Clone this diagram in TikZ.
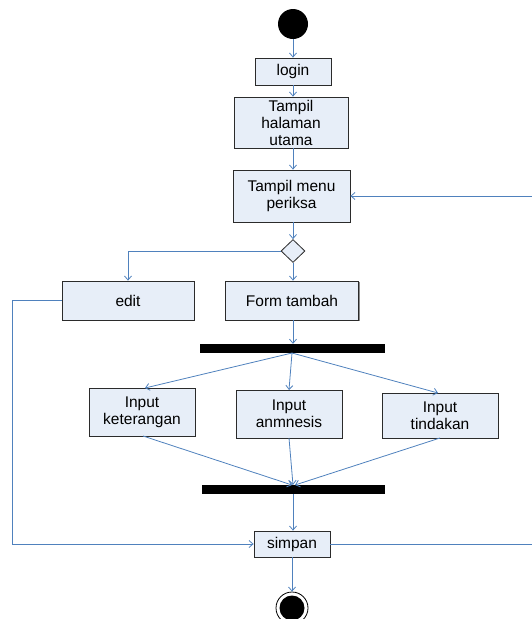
\documentclass[tikz,border=0pt]{standalone}
\usepackage{fontspec}
\setmainfont{Liberation Sans}
\usetikzlibrary{arrows.meta,shapes.geometric,shadows}
\definecolor{lineblue}{HTML}{4F81BD}
\definecolor{boxfill}{HTML}{E7EEF8}
\definecolor{boxline}{HTML}{2B2B2B}
\tikzset{
  box/.style={draw=boxline, fill=boxfill, line width=0.8pt, align=center, inner sep=1pt,
    font=\fontsize{15.5}{17}\selectfont,
    drop shadow={shadow xshift=1pt, shadow yshift=-1pt, fill=black!45, opacity=1}},
  bar/.style={fill=black, draw=none, inner sep=0pt},
  flow/.style={draw=lineblue, line width=0.8pt, -{Straight Barb[length=4pt,width=7pt]}},
}
\begin{document}
\begin{tikzpicture}[x=1pt,y=-1pt]
\useasboundingbox (0,0) rectangle (531,619);
% start / end
\node[circle, fill=black, minimum size=30, inner sep=0pt] (start) at (293,24) {};
\node[circle, draw=black, line width=0.8pt, fill=white, minimum size=32, inner sep=0pt] (endo) at (292,608) {};
\node[circle, fill=black, minimum size=25, inner sep=0pt] (end) at (292,608) {};
% boxes
\node[box, minimum width=76, minimum height=27] (login) at (293,71.5) {login};
\node[box, minimum width=114, minimum height=51] (halu) at (291,122.5) {Tampil\\halaman\\utama};
\node[box, minimum width=117, minimum height=52] (periksa) at (291.5,196) {Tampil menu\\periksa};
\node[diamond, draw=boxline, fill=boxfill, line width=0.8pt, minimum width=24, minimum height=23, inner sep=0pt] (dec) at (293,251) {};
\node[box, minimum width=132, minimum height=39] (edit) at (128,300.5) {edit};
\node[box, minimum width=133, minimum height=39] (form) at (292,300.5) {Form tambah};
\node[bar, minimum width=185, minimum height=9] (fork) at (292.5,348.5) {};
\node[box, minimum width=106, minimum height=48] (ket) at (142,412) {Input\\keterangan};
\node[box, minimum width=106, minimum height=48] (anm) at (289,414) {Input\\anmnesis};
\node[box, minimum width=116, minimum height=45] (tin) at (440,415.5) {Input\\tindakan};
\node[bar, minimum width=183, minimum height=9] (join) at (293.5,489.5) {};
\node[box, minimum width=76, minimum height=26] (simpan) at (292,544) {simpan};
% helper coordinates
\coordinate (forkout) at (292,353);
\coordinate (ketin) at (145,388);
\coordinate (anmin) at (289,390);
\coordinate (tinin) at (438,393);
\coordinate (ketout) at (143,436);
\coordinate (anmout) at (289,438);
\coordinate (tinout) at (440,438);
\coordinate (joinin1) at (292,485);
\coordinate (joinin2) at (293,485);
\coordinate (joinin3) at (295,485);
\coordinate (leftrail) at (12,300.5);
\coordinate (rightrail) at (533,544);
% connectors
\draw[flow] (start.south) -- (login.north);
\draw[flow] (login.south) -- (login.south |- halu.north);
\draw[flow] (login.south |- halu.south) -- (login.south |- periksa.north);
\draw[flow] (login.south |- periksa.south) -- (dec.north);
\draw[flow] (dec.west) -| (edit.north);
\draw[flow] (dec.south) -- (dec.south |- form.north);
\draw[flow] (dec.south |- form.south) -- (dec.south |- fork.north);
\draw[flow] (forkout) -- (ketin);
\draw[flow] (forkout) -- (anmin);
\draw[flow] (forkout) -- (tinin);
\draw[flow] (ketout) -- (joinin1);
\draw[flow] (anmout) -- (joinin2);
\draw[flow] (tinout) -- (joinin3);
\draw[flow] (dec.south |- join.south) -- (dec.south |- simpan.north);
\draw[flow] (simpan.south) -- (endo.north);
\draw[flow] (edit.west) -- (leftrail) |- (simpan.west);
\draw[flow] (simpan.east) -- (rightrail) |- (periksa.east);
\end{tikzpicture}
\end{document}
